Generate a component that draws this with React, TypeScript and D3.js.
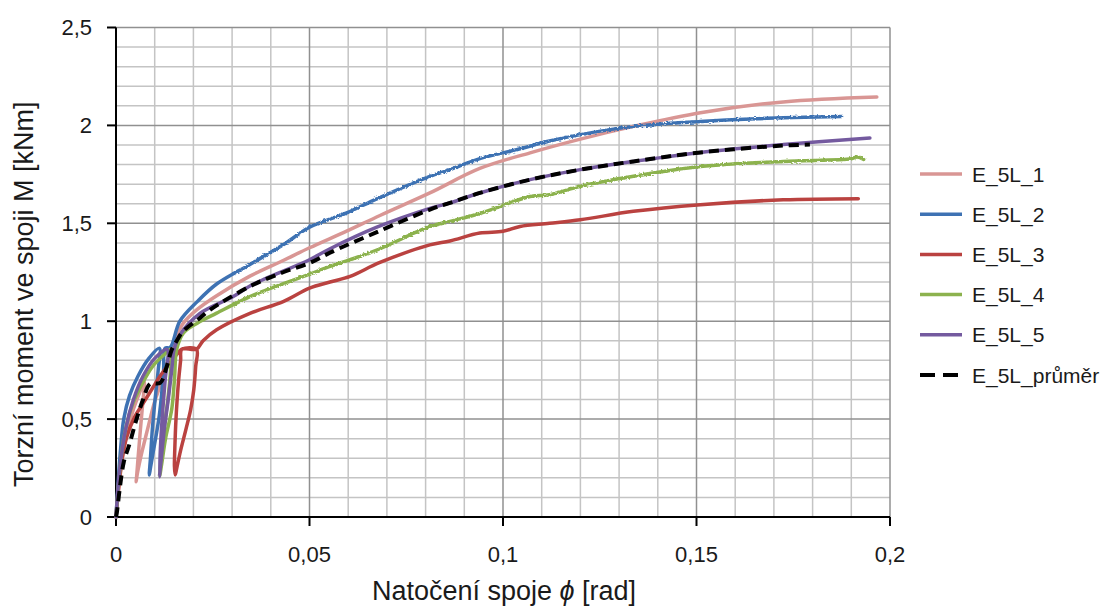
import React from "react";
import * as d3 from "d3";

type Pt = [number, number];

// Torsional moment M [kNm] versus joint rotation phi [rad], specimens E_5L_1..5 and their mean.
// Each specimen: loading to ~0.85 kNm, unloading to ~0.2 kNm, reloading, then loading to failure.
const e5l1: Pt[] = [
  [0, 0], [0.001, 0.2], [0.0025, 0.4], [0.0045, 0.55], [0.0062, 0.64], [0.0073, 0.69],
  [0.0069, 0.58], [0.0063, 0.445], [0.0057, 0.3], [0.0053, 0.2], [0.0052, 0.18],
  [0.0055, 0.22], [0.006, 0.27], [0.0068, 0.34], [0.0078, 0.42], [0.0088, 0.5], [0.01, 0.59], [0.0114, 0.67],
  [0.0128, 0.76], [0.014, 0.84], [0.0155, 0.92], [0.0174, 0.99], [0.021, 1.06], [0.026, 1.13],
  [0.0346, 1.23], [0.0432, 1.31], [0.05, 1.375], [0.0596, 1.46], [0.0682, 1.54], [0.0811, 1.655],
  [0.094, 1.78], [0.107, 1.86], [0.12, 1.93], [0.1337, 1.995], [0.151, 2.065], [0.1724, 2.12], [0.1966, 2.145],
];

const e5l2: Pt[] = [
  [0, 0], [0.0006, 0.19], [0.0012, 0.35], [0.002, 0.5], [0.0035, 0.62], [0.0057, 0.72], [0.0085, 0.81], [0.0112, 0.862],
  [0.0109, 0.75], [0.0101, 0.6], [0.0094, 0.45], [0.0089, 0.3], [0.0086, 0.215],
  [0.0089, 0.25], [0.0095, 0.32], [0.0104, 0.42], [0.0112, 0.52], [0.0118, 0.63], [0.0123, 0.75], [0.0127, 0.862], [0.014, 0.866],
  [0.0165, 1.0], [0.021, 1.1], [0.026, 1.19], [0.0346, 1.29], [0.0432, 1.39], [0.05, 1.48], [0.0596, 1.553],
  [0.0674, 1.625], [0.0811, 1.74], [0.0863, 1.774], [0.094, 1.83], [0.1035, 1.876], [0.112, 1.92],
  [0.12, 1.953], [0.1337, 1.995], [0.151, 2.02], [0.1638, 2.033], [0.1875, 2.045],
];

const e5l3: Pt[] = [
  [0, 0], [0.0008, 0.17], [0.0016, 0.3], [0.0028, 0.41], [0.0048, 0.51], [0.007, 0.58], [0.0095, 0.66],
  [0.0114, 0.72], [0.0135, 0.775], [0.0155, 0.825], [0.017, 0.857], [0.0208, 0.857],
  [0.0206, 0.77], [0.0201, 0.65], [0.0193, 0.55], [0.0181, 0.45], [0.0167, 0.34], [0.0157, 0.25], [0.0153, 0.215],
  [0.0151, 0.26], [0.0152, 0.35], [0.0155, 0.5], [0.0161, 0.68], [0.0167, 0.8], [0.017, 0.857], [0.0208, 0.857],
  [0.0225, 0.9], [0.026, 0.956], [0.0346, 1.04], [0.0432, 1.1], [0.05, 1.169], [0.0553, 1.2],
  [0.0605, 1.229], [0.0682, 1.3], [0.0811, 1.39], [0.0863, 1.41], [0.094, 1.45], [0.1, 1.459],
  [0.1044, 1.484], [0.112, 1.5], [0.12, 1.518], [0.1337, 1.561], [0.151, 1.595], [0.1724, 1.62], [0.1918, 1.626],
];

const e5l4: Pt[] = [
  [0, 0], [0.0008, 0.2], [0.002, 0.4], [0.004, 0.56], [0.0065, 0.67], [0.0095, 0.77], [0.0125, 0.83], [0.0142, 0.857],
  [0.0141, 0.75], [0.0134, 0.6], [0.0124, 0.45], [0.0117, 0.3], [0.0113, 0.21],
  [0.0118, 0.27], [0.0128, 0.4], [0.0144, 0.55], [0.0151, 0.7], [0.0157, 0.857],
  [0.0174, 0.939], [0.021, 0.99], [0.026, 1.041], [0.0346, 1.126], [0.0389, 1.16], [0.05, 1.24],
  [0.0553, 1.28], [0.0605, 1.314], [0.0682, 1.37], [0.0811, 1.484], [0.0863, 1.51], [0.094, 1.55],
  [0.107, 1.637], [0.112, 1.646], [0.12, 1.689], [0.1337, 1.74], [0.151, 1.79], [0.1724, 1.816],
  [0.19, 1.83], [0.1915, 1.838], [0.1932, 1.826],
];

const e5l5: Pt[] = [
  [0, 0], [0.001, 0.25], [0.0025, 0.45], [0.0045, 0.6], [0.007, 0.72], [0.01, 0.81], [0.0132, 0.855],
  [0.0127, 0.7], [0.0121, 0.55], [0.0116, 0.4], [0.0112, 0.206],
  [0.0117, 0.3], [0.0125, 0.45], [0.0135, 0.6], [0.0144, 0.75], [0.015, 0.855],
  [0.0165, 0.93], [0.0217, 1.04], [0.0303, 1.126], [0.0346, 1.18], [0.0389, 1.22], [0.05, 1.314],
  [0.0553, 1.37], [0.0674, 1.48], [0.0811, 1.576], [0.0863, 1.604], [0.094, 1.655], [0.107, 1.723],
  [0.12, 1.774], [0.1337, 1.816], [0.151, 1.862], [0.1724, 1.902], [0.1948, 1.936],
];

const e5lMean: Pt[] = [
  [0, 0], [0.0002, 0.02], [0.001, 0.15], [0.002, 0.28], [0.0036, 0.38], [0.0053, 0.5], [0.007, 0.6],
  [0.0088, 0.68], [0.0114, 0.685], [0.0131, 0.768], [0.0144, 0.854], [0.0157, 0.9], [0.0174, 0.95],
  [0.0213, 1.01], [0.0243, 1.058], [0.0346, 1.178], [0.0432, 1.25], [0.05, 1.297], [0.0553, 1.35],
  [0.0674, 1.455], [0.0811, 1.57], [0.0863, 1.604], [0.094, 1.655], [0.107, 1.723], [0.12, 1.774],
  [0.1337, 1.816], [0.151, 1.862], [0.1724, 1.897], [0.1793, 1.902],
];

const seriesData: Pt[][] = [e5l1, e5l2, e5l3, e5l4, e5l5, e5lMean];
const seriesNames = ["E_5L_1", "E_5L_2", "E_5L_3", "E_5L_4", "E_5L_5", "E_5L_průměr"];
const seriesColors = ["#D99694", "#3E72B3", "#BA4240", "#8CB24E", "#745A9F", "#000000"];
// measured series with a noisy signal beyond this rotation
const noisySeries = [false, true, false, true, false, false];
const noiseFrom = 0.03;

const phiTicks = [0, 0.05, 0.1, 0.15, 0.2];
const mTicks = [0, 0.5, 1, 1.5, 2, 2.5];
const phiMinorStep = 0.01;
const mMinorStep = 0.1;

const FONT = "'Liberation Sans', Arial, sans-serif";
const TEXT = "#1a1a1a";

const fmt = (v: number) => String(+v.toFixed(3)).replace(".", ",");

export default function App() {
  const W = 1110;
  const H = 608;
  const x = d3.scaleLinear().domain([0, 0.2]).range([116, 890]);
  const y = d3.scaleLinear().domain([0, 2.5]).range([517, 27.5]);

  const line = d3
    .line<Pt>()
    .x((d) => x(d[0]))
    .y((d) => y(d[1]))
    .curve(d3.curveCatmullRom.alpha(0.5));

  const phiMinor = d3.range(0, 0.2 + 1e-9, phiMinorStep);
  const mMinor = d3.range(0, 2.5 + 1e-9, mMinorStep);
  const isMajor = (v: number, step: number) => Math.abs(v / step - Math.round(v / step)) < 1e-6;

  const [x0, x1] = x.range();
  const [y0, y1] = y.range();
  const xNoise = x(noiseFrom);

  const legendX = 920;
  const legendY0 = 174;
  const legendStep = 40.2;

  return (
    <svg
      width={W}
      height={H}
      viewBox={`0 0 ${W} ${H}`}
      style={{ position: "absolute", left: 0, top: 0, background: "#fff" }}
      fontFamily={FONT}
    >
      <defs>
        <clipPath id="smoothPart">
          <rect x={0} y={0} width={xNoise} height={H} />
        </clipPath>
        <clipPath id="noisyPart">
          <rect x={xNoise} y={0} width={W - xNoise} height={H} />
        </clipPath>
        <filter id="rough" x="-2%" y="-5%" width="104%" height="110%">
          <feTurbulence type="fractalNoise" baseFrequency="0.35 0.9" numOctaves={2} seed={3} result="n" />
          <feDisplacementMap in="SourceGraphic" in2="n" scale={3.2} xChannelSelector="R" yChannelSelector="G" />
        </filter>
      </defs>
      <rect x={0} y={0} width={W} height={H} fill="#fff" />

      {/* minor grid */}
      <g stroke="#c4c4c4" strokeWidth={1.5}>
        {phiMinor.filter((v) => !isMajor(v, 0.05)).map((v, i) => (
          <line key={`vx${i}`} x1={x(v)} x2={x(v)} y1={y1} y2={y0} />
        ))}
        {mMinor.filter((v) => !isMajor(v, 0.5)).map((v, i) => (
          <line key={`hy${i}`} x1={x0} x2={x1} y1={y(v)} y2={y(v)} />
        ))}
      </g>
      {/* major grid */}
      <g stroke="#909090" strokeWidth={1.5}>
        {phiTicks.filter((v) => v > 0).map((v, i) => (
          <line key={`Vx${i}`} x1={x(v)} x2={x(v)} y1={y1} y2={y0} />
        ))}
        {mTicks.filter((v) => v > 0).map((v, i) => (
          <line key={`Hy${i}`} x1={x0} x2={x1} y1={y(v)} y2={y(v)} />
        ))}
      </g>

      {/* axes */}
      <g stroke="#000" strokeWidth={2}>
        <line x1={x0} x2={x0} y1={y1} y2={y0 + 1} />
        <line x1={x0 - 1} x2={x1} y1={y0} y2={y0} />
        {mTicks.map((v, i) => (
          <line key={`ty${i}`} x1={x0 - 9} x2={x0} y1={y(v)} y2={y(v)} />
        ))}
        {phiTicks.map((v, i) => (
          <line key={`tx${i}`} x1={x(v)} x2={x(v)} y1={y0} y2={y0 + 9} />
        ))}
      </g>

      {/* series */}
      <g fill="none" strokeLinejoin="round">
        {seriesData.map((d, i) => {
          const path = line(d) ?? "";
          const isMean = i === 5;
          const common = {
            stroke: seriesColors[i],
            strokeWidth: isMean ? 4 : 3.5,
            strokeDasharray: isMean ? "10 6" : undefined,
            strokeLinecap: (isMean ? "butt" : "round") as "butt" | "round",
          };
          if (!noisySeries[i]) return <path key={seriesNames[i]} d={path} {...common} />;
          return (
            <g key={seriesNames[i]}>
              <path d={path} {...common} clipPath="url(#smoothPart)" />
              <g clipPath="url(#noisyPart)">
                <path d={path} {...common} filter="url(#rough)" />
              </g>
            </g>
          );
        })}
      </g>

      {/* tick labels */}
      <g fill={TEXT} fontSize={22}>
        {mTicks.map((v, i) => (
          <text key={`ly${i}`} x={x0 - 24} y={y(v)} dy="0.36em" textAnchor="end">
            {fmt(v)}
          </text>
        ))}
        {phiTicks.map((v, i) => (
          <text key={`lx${i}`} x={x(v)} y={y0 + 45} textAnchor="middle">
            {fmt(v)}
          </text>
        ))}
      </g>

      {/* axis titles */}
      <text x={(x0 + x1) / 2 + 1} y={600} fontSize={27} fill={TEXT} textAnchor="middle">
        Natočení spoje <tspan fontStyle="italic">ϕ</tspan> [rad]
      </text>
      <text
        transform={`translate(33, ${(y0 + y1) / 2 + 22}) rotate(-90)`}
        fontSize={27}
        fill={TEXT}
        textAnchor="middle"
      >
        Torzní moment ve spoji M [kNm]
      </text>

      {/* legend */}
      <g>
        {seriesNames.map((name, i) => {
          const ly = legendY0 + i * legendStep;
          return (
            <g key={`lg${i}`}>
              <line
                x1={legendX}
                x2={legendX + 42}
                y1={ly}
                y2={ly}
                stroke={seriesColors[i]}
                strokeWidth={i === 5 ? 4 : 3.5}
                strokeDasharray={i === 5 ? "15 8" : undefined}
              />
              <text x={legendX + 52} y={ly} dy="0.36em" fontSize={21} fill={TEXT}>
                {name}
              </text>
            </g>
          );
        })}
      </g>
    </svg>
  );
}
